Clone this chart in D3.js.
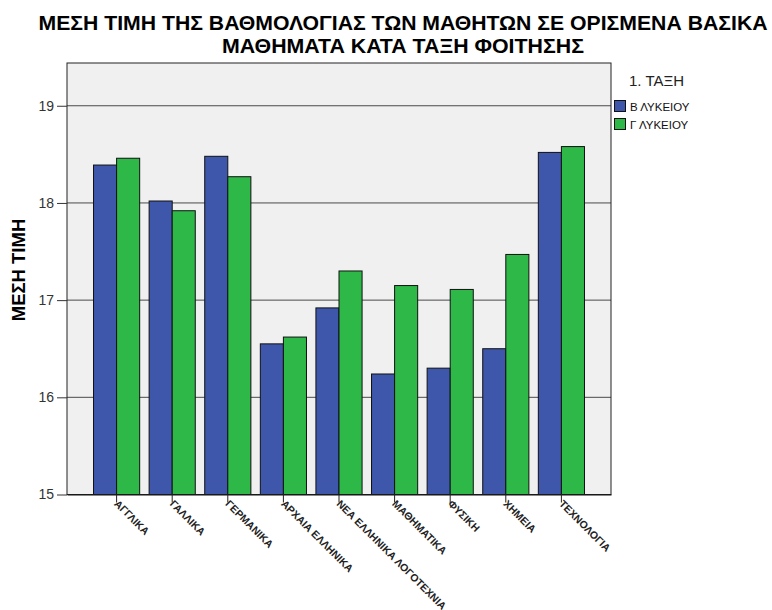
<!DOCTYPE html>
<html>
<head>
<meta charset="utf-8">
<script src="https://cdn.jsdelivr.net/npm/d3@7"></script>
<style>
  html, body { margin: 0; padding: 0; background: #ffffff; }
  svg { display: block; font-family: "Liberation Sans", Arial, sans-serif; }
</style>
</head>
<body>
<svg id="chart" width="772" height="610"></svg>
<script>
const categories = ["ΑΓΓΛΙΚΑ", "ΓΑΛΛΙΚΑ", "ΓΕΡΜΑΝΙΚΑ", "ΑΡΧΑΙΑ ΕΛΛΗΝΙΚΑ", "ΝΕΑ ΕΛΛΗΝΙΚΑ ΛΟΓΟΤΕΧΝΙΑ", "ΜΑΘΗΜΑΤΙΚΑ", "ΦΥΣΙΚΗ", "ΧΗΜΕΙΑ", "ΤΕΧΝΟΛΟΓΙΑ"];
const seriesNames = ["Β ΛΥΚΕΙΟΥ", "Γ ΛΥΚΕΙΟΥ"];
const valuesB = [18.39, 18.02, 18.48, 16.55, 16.92, 16.24, 16.30, 16.50, 18.52];
const valuesG = [18.46, 17.92, 18.27, 16.62, 17.30, 17.15, 17.11, 17.47, 18.58];
const yTicks = [15, 16, 17, 18, 19];
const yDomain = [15, 19.44];
const titleLines = ["ΜΕΣΗ ΤΙΜΗ ΤΗΣ ΒΑΘΜΟΛΟΓΙΑΣ ΤΩΝ ΜΑΘΗΤΩΝ ΣΕ ΟΡΙΣΜΕΝΑ ΒΑΣΙΚΑ", "ΜΑΘΗΜΑΤΑ ΚΑΤΑ ΤΑΞΗ ΦΟΙΤΗΣΗΣ"];
const yTitle = "ΜΕΣΗ ΤΙΜΗ";
const legendTitle = "1. ΤΑΞΗ";
const colors = ["#3e57aa", "#2eb848"];

(function () {
const svg = d3.select("#chart");
const pL = 67, pR = 611, pT = 63, pB = 494.5;

const x0 = d3.scaleBand().domain(categories).range([pL, pR]).paddingInner(0.17).paddingOuter(0.477);
const x1 = d3.scaleBand().domain(seriesNames).range([0, x0.bandwidth()]);
const y = d3.scaleLinear().domain(yDomain).range([pB, pT]);

// plot background
svg.append("rect").attr("x", pL).attr("y", pT).attr("width", pR - pL).attr("height", pB - pT)
  .attr("fill", "#f0f0f0");

// gridlines
svg.append("g").selectAll("line").data(yTicks.filter(d => d > 15)).join("line")
  .attr("x1", pL).attr("x2", pR)
  .attr("y1", d => y(d)).attr("y2", d => y(d))
  .attr("stroke", "#4a4a4a").attr("stroke-width", 1);

// bars
const data = categories.map((c, i) => ({ c, vals: [valuesB[i], valuesG[i]] }));
const groups = svg.append("g").selectAll("g").data(data).join("g")
  .attr("transform", d => `translate(${x0(d.c)},0)`);
groups.selectAll("rect").data(d => d.vals.map((v, j) => ({ v, s: seriesNames[j], j }))).join("rect")
  .attr("x", d => x1(d.s))
  .attr("y", d => y(d.v))
  .attr("width", x1.bandwidth())
  .attr("height", d => y(yDomain[0]) - y(d.v))
  .attr("fill", d => colors[d.j])
  .attr("stroke", "#111")
  .attr("stroke-width", 1);

// frame
svg.append("rect").attr("x", pL).attr("y", pT).attr("width", pR - pL).attr("height", pB - pT)
  .attr("fill", "none").attr("stroke", "#222").attr("stroke-width", 1);

// y axis
const yAxis = d3.axisLeft(y).tickValues(yTicks).tickSize(10).tickPadding(3).tickFormat(d3.format("d"));
const gy = svg.append("g").attr("transform", `translate(${pL},0)`).call(yAxis);
gy.select(".domain").remove();
gy.selectAll(".tick line").attr("stroke", "#333");
gy.selectAll(".tick text").attr("font-size", 14).attr("fill", "#333")
  .attr("font-family", "'Liberation Sans', Arial, sans-serif");

// x axis
const xAxis = d3.axisBottom(x0).tickSize(8).tickSizeOuter(0);
const gx = svg.append("g").attr("transform", `translate(0,${pB})`).call(xAxis);
gx.select(".domain").attr("stroke", "#111");
gx.selectAll(".tick line").attr("stroke", "#222");
gx.selectAll(".tick text")
  .attr("font-size", 10.5).attr("font-weight", "bold").attr("fill", "#222")
  .attr("font-family", "'Liberation Sans', Arial, sans-serif")
  .attr("text-anchor", "start")
  .attr("y", 0).attr("dy", 0)
  .attr("transform", "translate(-3,10) rotate(45)");

// title
svg.append("g").selectAll("text").data(titleLines).join("text")
  .attr("x", 403).attr("y", (d, i) => 30 + i * 23)
  .attr("text-anchor", "middle")
  .attr("font-size", 20).attr("font-weight", "bold").attr("fill", "#000")
  .attr("textLength", (d, i) => i === 0 ? 729 : 362)
  .attr("lengthAdjust", "spacingAndGlyphs")
  .text(d => d);

// y title
svg.append("text")
  .attr("transform", "translate(25,270) rotate(-90)")
  .attr("text-anchor", "middle")
  .attr("font-size", 18.5).attr("font-weight", "bold").attr("fill", "#000")
  .text(yTitle);

// legend
const lg = svg.append("g");
lg.append("text").attr("x", 629).attr("y", 86).attr("font-size", 15).attr("fill", "#222").text(legendTitle);
seriesNames.forEach((s, i) => {
  lg.append("rect").attr("x", 614.5).attr("y", 100.5 + i * 18).attr("width", 11).attr("height", 11)
    .attr("fill", colors[i]).attr("stroke", "#111");
  lg.append("text").attr("x", 630).attr("y", 111 + i * 18).attr("font-size", 11.5).attr("fill", "#111").text(s);
});
})();
</script>
</body>
</html>
